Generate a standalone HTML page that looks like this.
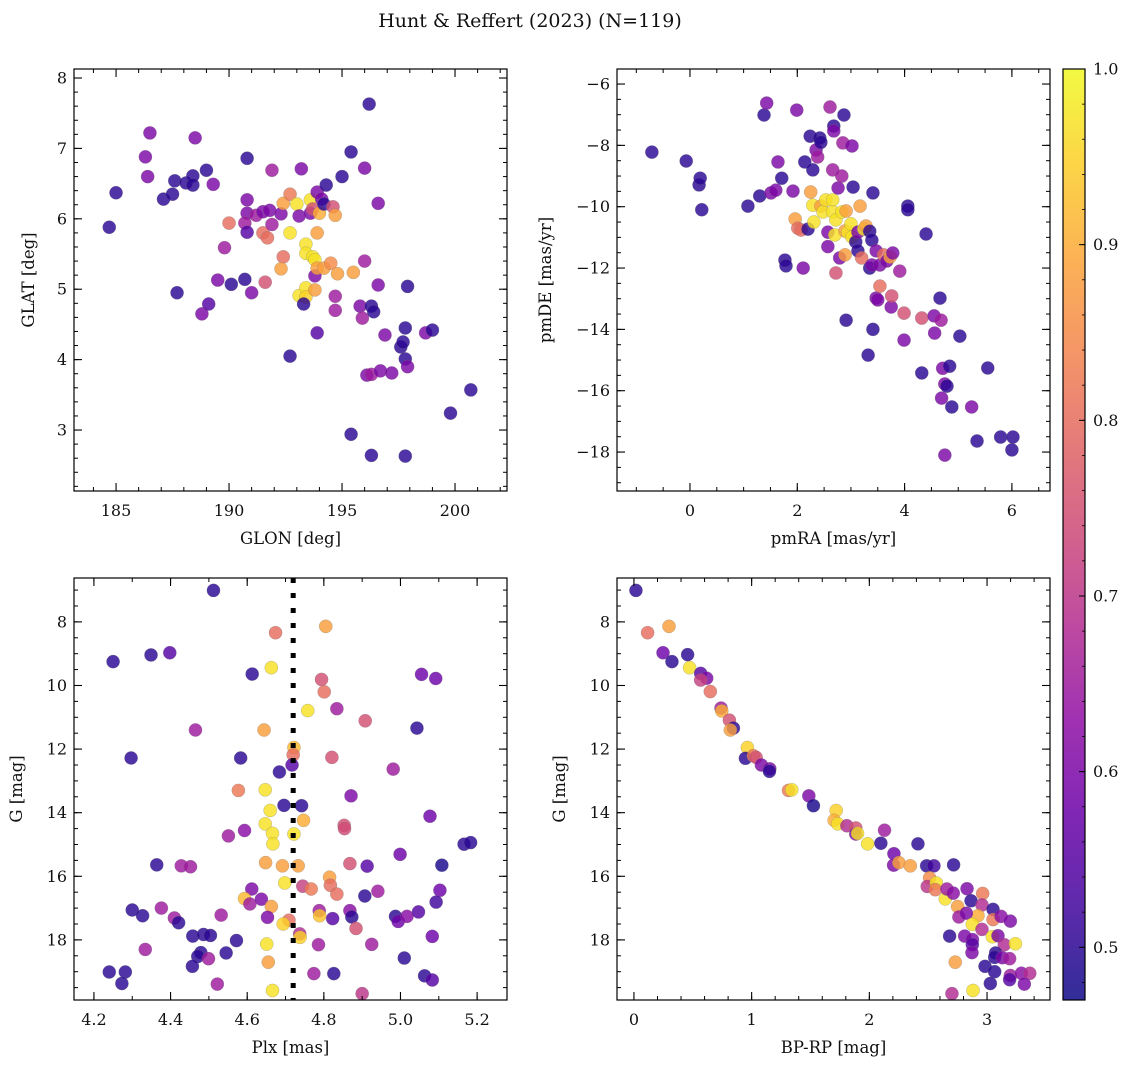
<!DOCTYPE html>
<html><head><meta charset="utf-8">
<style>
html,body{margin:0;padding:0;background:#fff;}
svg{display:block;font-family:"DejaVu Serif","Liberation Serif",serif;}
</style></head>
<body>
<svg id="fig" width="1136" height="1068" viewBox="0 0 1136 1068" xmlns="http://www.w3.org/2000/svg">
<text x="530" y="27" text-anchor="middle" font-size="19" fill="#111">Hunt &amp; Reffert (2023) (N=119)</text>
</svg>
<script>
// ---- Panel 1: GLON vs GLAT ----
const p1Lon=[184.7,185.0,186.5,186.3,186.4,187.1,187.5,187.6,188.1,188.4,188.4,188.5,189.0,189.3,187.7,188.8,189.1,189.5,189.8,190.0,190.1,190.7,190.8,190.8,190.8,190.7,190.8,191.0,191.2,191.5,191.8,191.5,191.7,191.6,191.9,191.9,192.3,192.4,192.4,192.3,192.7,192.7,192.7,193.0,193.1,193.2,193.1,193.4,193.4,193.3,193.4,193.4,193.6,193.6,193.7,193.9,193.7,193.8,193.8,193.8,193.9,193.9,193.9,194.0,194.1,194.2,194.2,194.3,194.5,194.6,194.7,194.8,194.7,194.7,195.0,195.4,195.4,195.5,195.8,195.9,196.0,196.0,196.1,196.2,196.3,196.3,196.4,196.3,196.6,196.6,196.7,196.9,197.2,197.6,197.7,197.8,197.8,197.8,197.9,197.9,198.7,199.0,199.8,200.7];
const p1Lat=[5.88,6.37,7.22,6.88,6.60,6.28,6.35,6.54,6.51,6.61,6.48,7.15,6.69,6.49,4.95,4.65,4.79,5.13,5.59,5.94,5.07,5.14,6.86,6.27,6.08,5.94,5.81,4.95,6.05,6.10,6.12,5.8,5.73,5.10,6.69,5.92,6.07,6.22,5.46,5.29,6.35,5.80,4.05,6.21,6.04,6.71,4.91,5.02,4.89,4.79,5.64,5.51,6.27,6.08,6.14,6.38,5.46,5.42,5.19,4.99,5.80,5.30,4.38,6.08,6.28,5.30,6.21,6.48,5.37,6.17,6.05,5.22,4.90,4.70,6.6,6.95,2.94,5.24,4.76,4.59,5.40,6.72,3.78,7.63,3.79,4.76,4.68,2.64,6.22,5.06,3.84,4.35,3.81,4.18,4.25,4.45,4.01,2.63,5.04,3.90,4.38,4.42,3.24,3.57];
const p1Prob=[.5,.5,.6,.6,.6,.5,.5,.5,.5,.5,.5,.6,.5,.6,.5,.6,.55,.6,.65,.8,.5,.5,.5,.6,.6,.65,.55,.6,.65,.6,.6,.8,.8,.75,.65,.65,.6,.88,.8,.88,.82,.97,.5,.97,.6,.6,.97,.97,.95,.5,.97,.97,.97,.6,.75,.6,.97,.97,.6,.88,.88,.88,.55,.9,.6,.88,.5,.5,.85,.75,.88,.88,.65,.65,.5,.5,.5,.88,.6,.65,.65,.6,.6,.5,.65,.5,.5,.5,.6,.6,.6,.6,.6,.5,.5,.5,.5,.5,.5,.6,.6,.5,.5,.5];
// ---- Panel 2: pmRA vs pmDE ----
const p2PmRA=[-0.71,-0.07,0.17,0.19,0.22,1.08,1.30,1.38,1.43,1.51,1.64,1.60,1.71,1.77,1.79,1.99,1.92,1.96,2.01,2.07,2.11,2.14,2.20,2.24,2.25,2.29,2.31,2.29,2.35,2.38,2.42,2.44,2.44,2.48,2.53,2.57,2.57,2.61,2.66,2.66,2.66,2.68,2.68,2.70,2.72,2.72,2.76,2.79,2.83,2.85,2.87,2.83,2.89,2.89,2.91,2.91,2.94,3.0,3.02,3.02,3.04,3.09,3.13,3.13,3.17,3.2,3.24,3.28,3.32,3.35,3.39,3.35,3.39,3.41,3.41,3.47,3.5,3.47,3.54,3.54,3.61,3.67,3.73,3.75,3.76,3.78,3.91,3.99,3.99,4.06,4.06,4.32,4.32,4.40,4.55,4.56,4.66,4.68,4.71,4.75,4.79,4.69,4.75,4.84,4.88,5.03,5.25,5.35,5.55,5.79,6.02,6.0];
const p2PmDE=[-8.22,-8.51,-9.29,-9.07,-10.1,-9.98,-9.65,-7.01,-6.62,-9.55,-8.54,-9.46,-9.07,-11.74,-11.93,-6.85,-9.49,-10.4,-10.7,-10.76,-12.0,-8.54,-10.73,-7.7,-9.52,-9.95,-10.5,-8.8,-8.15,-8.38,-7.76,-7.9,-9.98,-10.17,-9.78,-10.83,-11.3,-6.75,-9.78,-10.17,-8.80,-7.37,-7.53,-10.92,-10.43,-12.16,-9.39,-11.67,-9.0,-7.92,-7.01,-10.17,-10.79,-11.57,-10.14,-13.7,-10.83,-10.56,-10.99,-8.02,-9.36,-11.15,-10.83,-11.44,-9.98,-11.67,-10.73,-10.63,-14.84,-12.0,-11.9,-10.8,-11.09,-9.55,-14.0,-12.98,-13.04,-11.44,-11.9,-12.59,-11.57,-11.77,-11.64,-13.27,-12.91,-11.51,-12.1,-13.47,-14.35,-9.98,-10.1,-13.63,-15.42,-10.89,-13.56,-14.12,-12.98,-13.7,-15.27,-15.78,-15.85,-16.24,-18.1,-15.2,-16.53,-14.22,-16.53,-17.64,-15.26,-17.51,-17.51,-17.93];
const p2Prob=[.5,.5,.5,.5,.5,.5,.5,.5,.6,.6,.6,.6,.5,.5,.5,.6,.6,.88,.8,.8,.6,.5,.5,.5,.88,.97,.97,.5,.6,.65,.5,.5,.88,.97,.97,.6,.6,.65,.97,.97,.65,.5,.6,.97,.97,.75,.6,.6,.65,.65,.5,.97,.88,.88,.88,.5,.97,.97,.97,.6,.5,.5,.6,.5,.88,.8,.97,.88,.5,.5,.6,.5,.5,.5,.5,.6,.6,.6,.6,.8,.8,.6,.88,.6,.75,.6,.65,.75,.6,.5,.5,.75,.5,.5,.6,.6,.5,.65,.6,.6,.5,.6,.6,.5,.5,.5,.6,.5,.5,.5,.5,.5];
// ---- Panel 3: Plx vs G ----
const p3Plx=[4.512,4.674,4.805,4.250,4.349,4.398,4.613,4.663,4.794,4.801,5.055,5.092,4.758,4.834,4.908,4.465,4.644,5.043,4.297,4.583,4.722,4.720,4.717,4.821,4.981,4.684,4.577,4.647,4.871,4.696,4.742,4.660,4.747,5.077,4.647,4.853,4.854,4.551,4.593,4.666,4.722,4.667,5.166,5.183,4.999,4.364,4.428,4.452,4.648,4.692,4.733,4.868,4.913,5.108,4.698,4.815,4.817,4.834,4.745,4.767,4.612,4.941,4.907,5.103,5.093,4.593,4.607,4.637,4.663,4.300,4.327,4.376,4.410,4.421,4.532,4.653,4.709,4.694,4.788,4.789,4.823,4.868,4.873,4.884,4.987,4.994,5.017,5.047,4.458,4.486,4.504,4.572,4.737,4.738,4.786,4.925,5.083,4.334,4.479,4.471,4.499,4.545,4.651,4.655,4.457,4.240,4.282,4.273,4.522,4.666,4.774,4.826,4.900,5.010,5.063,5.083];
const p3G=[7.01,8.34,8.14,9.25,9.04,8.97,9.64,9.44,9.81,10.20,9.65,9.78,10.79,10.73,11.11,11.40,11.40,11.34,12.28,12.28,11.95,12.18,12.50,12.26,12.63,12.72,13.30,13.28,13.47,13.77,13.78,13.93,14.24,14.11,14.35,14.40,14.50,14.73,14.56,14.65,14.67,14.98,14.99,14.94,15.31,15.64,15.67,15.70,15.57,15.67,15.67,15.60,15.68,15.65,16.21,16.03,16.28,16.56,16.31,16.40,16.40,16.47,16.62,16.44,16.81,16.70,16.87,16.72,16.95,17.06,17.24,17.00,17.31,17.46,17.22,17.29,17.38,17.50,17.08,17.24,17.33,17.08,17.28,17.64,17.26,17.42,17.26,17.12,17.88,17.83,17.86,18.02,17.81,17.92,18.15,18.14,17.89,18.30,18.40,18.52,18.59,18.41,18.13,18.70,18.83,19.01,19.01,19.37,19.39,19.59,19.06,19.06,19.69,18.57,19.13,19.26];
const p3Prob=[.5,.8,.88,.5,.5,.55,.5,.97,.75,.8,.58,.58,.97,.65,.75,.65,.88,.5,.5,.5,.92,.8,.55,.75,.65,.5,.82,.97,.6,.5,.5,.97,.9,.58,.97,.75,.74,.65,.62,.97,.97,.97,.5,.5,.58,.5,.65,.65,.88,.88,.88,.75,.55,.48,.97,.88,.8,.8,.72,.82,.6,.65,.5,.58,.52,.92,.65,.6,.88,.5,.5,.65,.65,.5,.65,.6,.8,.95,.65,.93,.55,.62,.5,.75,.5,.58,.62,.55,.5,.5,.5,.5,.68,.95,.65,.65,.58,.65,.5,.5,.65,.5,.97,.88,.5,.5,.5,.5,.65,.97,.65,.5,.7,.5,.5,.55];
// ---- Panel 4: BP-RP vs G ----
const p4BpRp=[0.017,0.116,0.298,0.247,0.323,0.456,0.473,0.567,0.618,0.567,0.649,0.740,0.746,0.811,0.845,0.819,0.964,0.947,1.015,1.038,1.083,1.154,1.151,1.313,1.341,1.486,1.525,1.718,1.701,1.732,1.809,1.885,1.885,1.900,2.129,1.985,2.098,2.413,2.209,2.206,2.251,2.348,2.487,2.549,2.716,2.512,2.492,2.569,2.560,2.645,2.659,2.713,2.750,2.830,2.864,2.963,2.957,2.923,2.761,2.824,3.051,3.051,3.119,3.198,2.875,2.957,2.682,2.810,2.876,2.875,2.872,3.045,3.093,3.147,3.241,3.073,3.065,3.130,3.192,2.730,2.983,3.065,3.198,3.192,3.292,3.363,3.317,3.028,2.881,2.702];
const p4G=[7.01,8.34,8.14,8.97,9.25,9.03,9.44,9.62,9.77,9.83,10.19,10.71,10.80,11.09,11.34,11.40,11.95,12.29,12.21,12.26,12.50,12.62,12.70,13.30,13.28,13.47,13.78,13.93,14.24,14.35,14.41,14.48,14.67,14.65,14.55,14.98,14.96,14.98,15.29,15.65,15.57,15.67,15.67,15.67,15.64,16.05,16.32,16.21,16.42,16.71,16.40,16.53,16.95,16.39,16.77,16.54,16.90,17.24,17.28,17.16,17.04,17.36,17.26,17.41,17.51,17.67,17.88,17.88,17.99,18.15,18.40,17.90,17.87,18.15,18.12,18.41,18.55,18.56,18.59,18.70,18.83,19.00,19.12,19.25,19.05,19.05,19.39,19.37,19.59,19.69];
const p4Prob=[.5,.8,.88,.58,.5,.5,.97,.55,.6,.72,.8,.65,.9,.75,.5,.88,.95,.5,.82,.75,.6,.6,.5,.82,.97,.6,.48,.95,.9,.97,.68,.75,.6,.97,.65,.97,.5,.5,.58,.6,.88,.88,.5,.52,.5,.85,.7,.97,.82,.97,.65,.62,.88,.6,.5,.82,.68,.9,.65,.6,.5,.82,.62,.6,.97,.68,.5,.6,.6,.55,.6,.97,.6,.68,.97,.5,.5,.6,.65,.88,.5,.5,.65,.55,.62,.68,.6,.5,.97,.68];

const NS='http://www.w3.org/2000/svg';
const svg=document.getElementById('fig');
const VMIN=0.47, VMAX=1.0;
const stops=['#0d0887','#41049d','#6a00a8','#8f0da4','#b12a90','#cc4778','#e16462','#f2844b','#fca636','#fcce25','#f0f921'];
function hex(h){return [1,3,5].map(i=>parseInt(h.substr(i,2),16));}
function plasma(v){
  let t=(v-VMIN)/(VMAX-VMIN); t=Math.max(0,Math.min(1,t));
  const f=t*10, i=Math.min(9,Math.floor(f)), r=f-i;
  const a=hex(stops[i]), b=hex(stops[i+1]);
  return 'rgb('+a.map((c,k)=>Math.round(c+(b[k]-c)*r)).join(',')+')';
}
function mk(tag,attrs,parent){const e=document.createElementNS(NS,tag);for(const k in attrs)e.setAttribute(k,attrs[k]);(parent||svg).appendChild(e);return e;}
function fmt(v,dec){let s=v.toFixed(dec);if(v<0)s='\u2212'+s.slice(1);return s;}

function panel(o){
  const g=mk('g',{});
  
  
  const sx=v=>o.x0+(v-o.xl)/(o.xr-o.xl)*o.w;
  const sy=v=>o.y0+(v-o.yt)/(o.yb-o.yt)*o.h;
  const pg=mk('g',{},g);
  
  
  for(let i=0;i<o.xs.length;i++){
    const c=mk('circle',{cx:sx(o.xs[i]),cy:sy(o.ys[i]),r:6.6,fill:plasma(o.ps[i]),'fill-opacity':0.82,stroke:'#777','stroke-width':0.4,'stroke-opacity':0.6},pg);
    
    
  }
  if(o.vline!==undefined){
    const l=mk('line',{x1:sx(o.vline),x2:sx(o.vline),y1:o.y0,y2:o.y0+o.h,stroke:'#000','stroke-width':5,'stroke-dasharray':'5,10'},g);
    
    
  }
  const fr=mk('rect',{x:o.x0,y:o.y0,width:o.w,height:o.h,fill:'none',stroke:'#000','stroke-width':1.2},g);
  
  
  const lo=Math.min(o.xl,o.xr),hi=Math.max(o.xl,o.xr);
  for(let v=Math.ceil(lo/o.xMin)*o.xMin;v<=hi;v+=o.xMin){
    const X=sx(v);
    mk('line',{x1:X,x2:X,y1:o.y0+o.h,y2:o.y0+o.h-4,stroke:'#000','stroke-width':1},g);
    mk('line',{x1:X,x2:X,y1:o.y0,y2:o.y0+4,stroke:'#000','stroke-width':1},g);
  }
  for(const v of o.xMaj){
    const X=sx(v);
    mk('line',{x1:X,x2:X,y1:o.y0+o.h,y2:o.y0+o.h-8,stroke:'#000','stroke-width':1.1},g);
    mk('line',{x1:X,x2:X,y1:o.y0,y2:o.y0+8,stroke:'#000','stroke-width':1.1},g);
    const t=mk('text',{x:X,y:o.y0+o.h+25,'text-anchor':'middle','font-size':16,fill:'#111'},g);
    t.textContent=fmt(v,o.xDec);
    
    
  }
  const ylo=Math.min(o.yt,o.yb),yhi=Math.max(o.yt,o.yb);
  for(let v=Math.ceil(ylo/o.yMin)*o.yMin;v<=yhi;v+=o.yMin){
    const Y=sy(v);
    mk('line',{x1:o.x0,x2:o.x0+4,y1:Y,y2:Y,stroke:'#000','stroke-width':1},g);
    mk('line',{x1:o.x0+o.w,x2:o.x0+o.w-4,y1:Y,y2:Y,stroke:'#000','stroke-width':1},g);
  }
  for(const v of o.yMaj){
    const Y=sy(v);
    mk('line',{x1:o.x0,x2:o.x0+8,y1:Y,y2:Y,stroke:'#000','stroke-width':1.1},g);
    mk('line',{x1:o.x0+o.w,x2:o.x0+o.w-8,y1:Y,y2:Y,stroke:'#000','stroke-width':1.1},g);
    const t=mk('text',{x:o.x0-7,y:Y+5.5,'text-anchor':'end','font-size':16,fill:'#111'},g);
    t.textContent=fmt(v,o.yDec);
    
    
  }
  const xt=mk('text',{x:o.x0+o.w/2,y:o.y0+o.h+53,'text-anchor':'middle','font-size':16.5,fill:'#111'},g);
  xt.textContent=o.xLabel;
  
  
  const yt=mk('text',{x:0,y:0,'text-anchor':'middle','font-size':16.5,fill:'#111',transform:'translate('+o.yLabX+','+(o.y0+o.h/2)+') rotate(-90)'},g);
  yt.textContent=o.yLabel;
  
  
}

panel({name:'glon-glat-panel',x0:74,y0:69,w:433,h:422,xl:183.14,xr:202.3,yt:8.128,yb:2.134,xs:p1Lon,ys:p1Lat,ps:p1Prob,
  xMaj:[185,190,195,200],xMin:1,xDec:0,yMaj:[3,4,5,6,7,8],yMin:0.2,yDec:0,xLabel:'GLON [deg]',yLabel:'GLAT [deg]',yLabX:34});
panel({name:'pm-panel',x0:617,y0:69,w:433,h:422,xl:-1.36,xr:6.71,yt:-5.51,yb:-19.27,xs:p2PmRA,ys:p2PmDE,ps:p2Prob,
  xMaj:[0,2,4,6],xMin:0.5,xDec:0,yMaj:[-6,-8,-10,-12,-14,-16,-18],yMin:0.5,yDec:0,xLabel:'pmRA [mas/yr]',yLabel:'pmDE [mas/yr]',yLabX:551});
panel({name:'plx-g-panel',x0:74,y0:578,w:433,h:422,xl:4.148,xr:5.278,yt:6.62,yb:19.89,xs:p3Plx,ys:p3G,ps:p3Prob,vline:4.72,
  xMaj:[4.2,4.4,4.6,4.8,5.0,5.2],xMin:0.1,xDec:1,yMaj:[8,10,12,14,16,18],yMin:0.5,yDec:0,xLabel:'Plx [mas]',yLabel:'G [mag]',yLabX:22});
panel({name:'cmd-panel',x0:617,y0:578,w:433,h:422,xl:-0.144,xr:3.535,yt:6.62,yb:19.89,xs:p4BpRp,ys:p4G,ps:p4Prob,
  xMaj:[0,1,2,3],xMin:0.2,xDec:0,yMaj:[8,10,12,14,16,18],yMin:0.5,yDec:0,xLabel:'BP-RP [mag]',yLabel:'G [mag]',yLabX:565});

const cbTicks=[0.5,0.6,0.7,0.8,0.9,1.0];
(function(){
  const x0=1063,y0=69,w=22,h=931;
  const g=mk('g',{});
  
  
  const defs=mk('defs',{},g);
  const lg=mk('linearGradient',{id:'cbg',x1:0,y1:1,x2:0,y2:0},defs);
  for(let i=0;i<=20;i++){const v=VMIN+(VMAX-VMIN)*i/20;mk('stop',{offset:(i/20),'stop-color':plasma(v),'stop-opacity':0.85},lg);}
  mk('rect',{x:x0,y:y0,width:w,height:h,fill:'url(#cbg)',stroke:'#000','stroke-width':1.2},g);
  const sy=v=>y0+(VMAX-v)/(VMAX-VMIN)*h;
  for(let v=0.48;v<=1.0001;v+=0.02){const Y=sy(v);mk('line',{x1:x0+w,x2:x0+w-3,y1:Y,y2:Y,stroke:'#000','stroke-width':0.8},g);}
  for(const v of cbTicks){
    const Y=sy(v);
    mk('line',{x1:x0+w,x2:x0+w-6,y1:Y,y2:Y,stroke:'#000','stroke-width':1},g);
    const t=mk('text',{x:x0+w+8,y:Y+5.5,'font-size':16,fill:'#111'},g);
    t.textContent=v.toFixed(1);
    
    
  }
})();
</script>
</body></html>
